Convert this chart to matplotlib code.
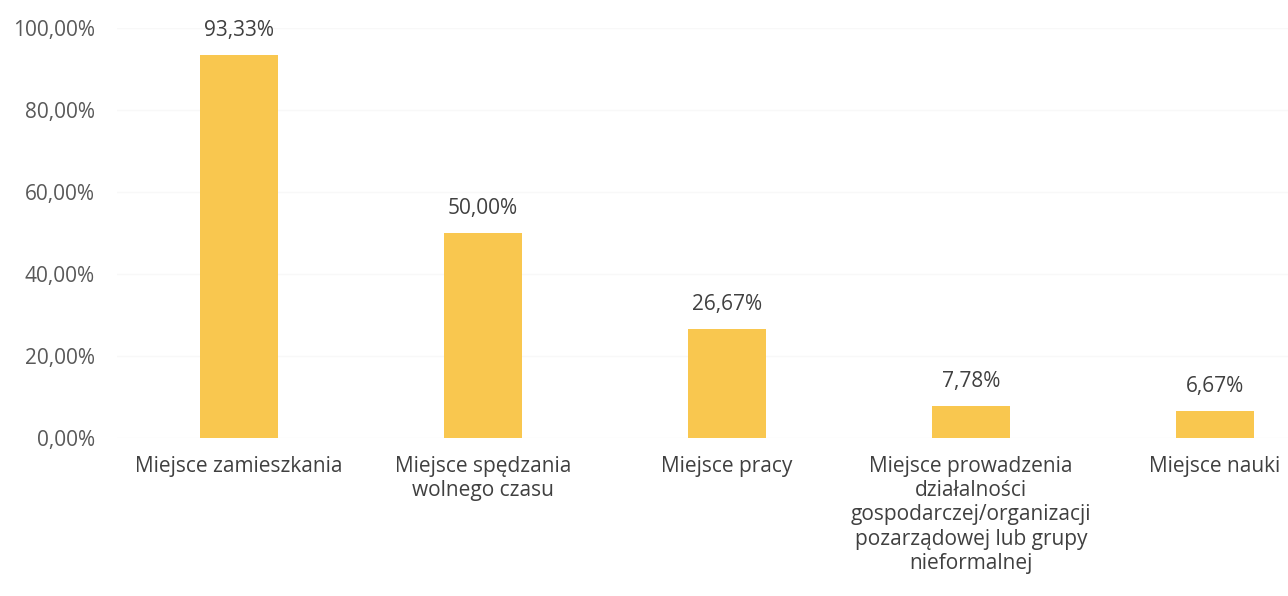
import matplotlib.pyplot as plt
from matplotlib.ticker import FuncFormatter

categories = [
    "Miejsce zamieszkania",
    "Miejsce spędzania\nwolnego czasu",
    "Miejsce pracy",
    "Miejsce prowadzenia\ndziałalności\ngospodarczej/organizacji\npozarządowej lub grupy\nnieformalnej",
    "Miejsce nauki",
]
values = [93.33, 50.00, 26.67, 7.78, 6.67]
yticks = [0, 20, 40, 60, 80, 100]

plt.rcParams['font.family'] = ['Open Sans', 'DejaVu Sans']

fig = plt.figure(figsize=(12.88, 5.96), dpi=100)
ax = fig.add_axes([117 / 1288, 158 / 596, 1 - 117 / 1288, (568 - 158) / 596])

x = range(len(categories))
ax.bar(x, values, width=0.32, color='#F9C74F', zorder=2)

for xi, v in zip(x, values):
    ax.annotate(f"{v:.2f}%".replace('.', ','), (xi, v), xytext=(0, 10),
                textcoords='offset points', ha='center', va='bottom',
                fontsize=15, color='#404040')

ax.set_xlim(-0.5, (1288 - 239) / 244)
ax.set_ylim(0, 100)
ax.set_yticks(yticks)
ax.yaxis.set_major_formatter(FuncFormatter(lambda v, p: f"{v:.2f}%".replace('.', ',')))
ax.set_xticks(list(x))
ax.set_xticklabels(categories, linespacing=1.2)

ax.tick_params(axis='y', length=0, pad=16, labelsize=15, labelcolor='#595959')
ax.tick_params(axis='x', length=0, pad=13, labelsize=15, labelcolor='#404040')
ax.grid(axis='y', color='#F8F8F8', linewidth=1, zorder=0)
for s in ax.spines.values():
    s.set_visible(False)

fig.savefig('out.png', dpi=100)
